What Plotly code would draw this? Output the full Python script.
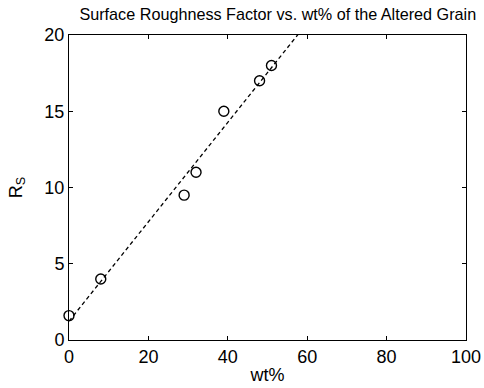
import numpy as np
import plotly.graph_objects as go

wt = [0, 8, 29, 32, 39, 48, 51]
rs = [1.6, 4.0, 9.5, 11.0, 15.0, 17.0, 18.0]
x_ticks = [0, 20, 40, 60, 80, 100]
y_ticks = [0, 5, 10, 15, 20]

slope, intercept = np.polyfit(wt, rs, 1)
fit_x = [0, 100]
fit_y = [intercept + slope * v for v in fit_x]

fig = go.Figure()
fig.add_trace(go.Scatter(x=fit_x, y=fit_y, mode="lines",
                         line=dict(color="black", width=1.3, dash="4px,3px"),
                         showlegend=False, hoverinfo="skip"))
fig.add_trace(go.Scatter(x=wt, y=rs, mode="markers", cliponaxis=False,
                         marker=dict(symbol="circle-open", size=10, color="black",
                                     line=dict(width=1.4, color="black")),
                         showlegend=False))

font = "Liberation Sans, Arial, sans-serif"
fig.update_layout(
    width=484, height=388,
    margin=dict(l=69, r=18, t=35, b=48),
    paper_bgcolor="white", plot_bgcolor="white",
    font=dict(family=font, color="black", size=18),
    title=dict(text="Surface Roughness Factor vs. wt% of the Altered Grain",
               x=0.574, xanchor="center", y=0.962, yanchor="middle",
               font=dict(size=16.2, family=font, color="black")),
)
axis_common = dict(showgrid=False, zeroline=False, showline=True, linecolor="black",
                   linewidth=1, mirror="ticks", ticks="inside", ticklen=4,
                   tickcolor="black", automargin=False,
                   tickfont=dict(size=18, family=font, color="black"))
fig.update_xaxes(range=[0, 100], tickvals=x_ticks, ticktext=[str(v) for v in x_ticks],
                 title=dict(text="wt%", standoff=2, font=dict(size=18)), **axis_common)
fig.update_yaxes(range=[0, 20], tickvals=y_ticks, ticktext=[str(v) for v in y_ticks],
                 title=dict(text="R<sub>S</sub>", standoff=17, font=dict(size=18)), **axis_common)

fig.write_html("out.html", config={"displayModeBar": False},
               post_script="document.body.style.margin='0';document.body.style.padding='0';")
